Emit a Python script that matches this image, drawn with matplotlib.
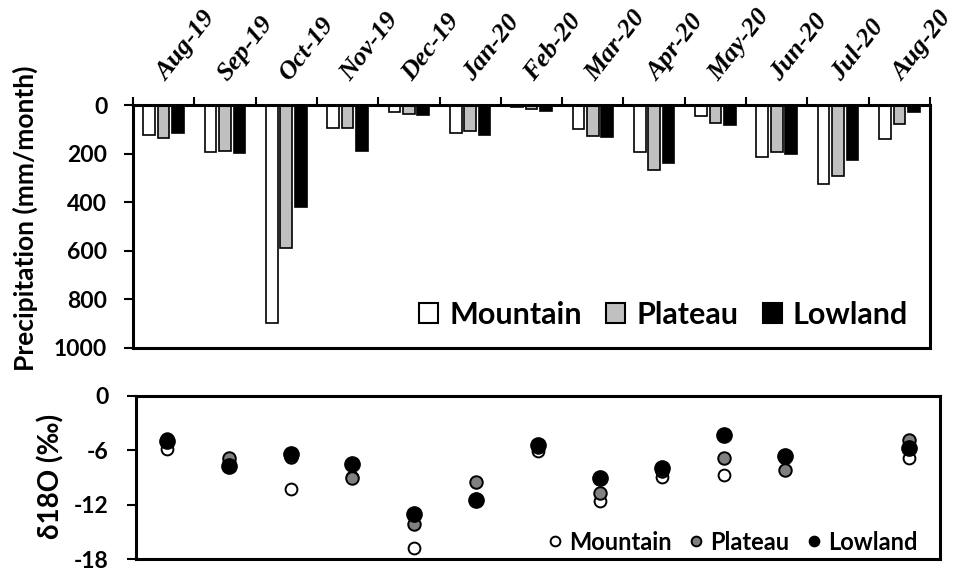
import numpy as np
import matplotlib
matplotlib.use("Agg")
import matplotlib.pyplot as plt
from matplotlib.lines import Line2D
from matplotlib.patches import Patch
from matplotlib.transforms import blended_transform_factory, ScaledTranslation

months = ["Aug-19", "Sep-19", "Oct-19", "Nov-19", "Dec-19", "Jan-20", "Feb-20",
          "Mar-20", "Apr-20", "May-20", "Jun-20", "Jul-20", "Aug-20"]

precip_mountain = [123, 195, 898, 93, 27, 117, 10, 100, 192, 45, 213, 326, 140]
precip_plateau = [135, 191, 590, 93, 37, 106, 18, 126, 267, 75, 195, 292, 78]
precip_lowland = [114, 196, 421, 189, 42, 123, 23, 133, 237, 81, 202, 226, 30]

d18o_mountain = [-5.9, -7.2, -10.3, -8.9, -16.8, -11.4, -6.1, -11.6, -8.9, -8.7, -6.8, np.nan, -6.8]
d18o_plateau = [-4.8, -6.8, -6.7, -9.1, -14.15, -9.55, -5.6, -10.7, -8.3, -6.9, -8.2, np.nan, -4.9]
d18o_lowland = [-5.0, -7.75, -6.43, -7.46, -13.05, -11.5, -5.43, -9.0, -8.0, -4.26, -6.6, np.nan, -5.73]

series = ['Mountain', 'Plateau', 'Lowland']

plt.rcParams['font.family'] = ['Lato', 'DejaVu Sans']
plt.rcParams['font.weight'] = 'bold'
plt.rcParams['axes.unicode_minus'] = False

W, H = 971, 573
fig = plt.figure(figsize=(W / 100, H / 100), dpi=100)
ax1 = fig.add_axes([133 / W, 1 - 348 / H, (930 - 133) / W, (348 - 105) / H])
ax2 = fig.add_axes([136 / W, 1 - 559 / H, (940 - 136) / W, (559 - 396) / H])

n = len(months)
x = np.arange(n) + 0.5
w = 0.19
off = 0.235
lw_sp = 2.2
bar_lw = 1.2

ax1.bar(x - off, precip_mountain, w, color='white', edgecolor='black', linewidth=bar_lw)
ax1.bar(x, precip_plateau, w, color='#c0c0c0', edgecolor='black', linewidth=bar_lw)
ax1.bar(x + off, precip_lowland, w, color='black', edgecolor='black', linewidth=bar_lw)
ax1.set_xlim(0, n)
ax1.set_ylim(1000, 0)
ax1.set_yticks([0, 200, 400, 600, 800, 1000])
ax1.tick_params(axis='y', labelsize=16.5, width=1.5, length=6.5, pad=12)
ax1.xaxis.tick_top()
ax1.set_xticks(np.arange(n + 1))
ax1.set_xticklabels([])
ax1.tick_params(axis='x', which='major', length=6, width=1.5, direction='out')
for s in ax1.spines.values():
    s.set_linewidth(lw_sp)

trans = blended_transform_factory(ax1.transData, ax1.transAxes) + \
    ScaledTranslation(0.03, 0.23, fig.dpi_scale_trans)
for xi, m in zip(x, months):
    ax1.text(xi, 1.0, m, transform=trans, rotation=52, rotation_mode='anchor',
             ha='left', va='baseline', family='Liberation Serif',
             style='italic', weight='bold', fontsize=19)

fig.text(25 / W, 1 - 218 / H, 'Precipitation (mm/month)', rotation=90,
         ha='center', va='center', fontsize=19, fontweight='bold')

h1 = [Patch(facecolor='white', edgecolor='black', linewidth=1.5),
      Patch(facecolor='#c0c0c0', edgecolor='black', linewidth=1.5),
      Patch(facecolor='black', edgecolor='black', linewidth=1.5)]
ax1.legend(h1, series, loc='center right', ncol=3,
           frameon=False, fontsize=22, handlelength=0.62, handleheight=0.62,
           handletextpad=0.36, columnspacing=0.8, borderaxespad=0.0,
           borderpad=0.0, bbox_to_anchor=(1 - 22 / 797, 33 / 243))

ax2.plot(x, d18o_mountain, 'o', ms=8.5, mfc='white', mec='black', mew=1.4, zorder=3)
ax2.plot(x, d18o_plateau, 'o', ms=9, mfc='#808080', mec='black', mew=1.4, zorder=4)
ax2.plot(x, d18o_lowland, 'o', ms=11, mfc='black', mec='black', mew=1.0, zorder=5)
ax2.set_xlim(0, n)
ax2.set_ylim(-18, 0)
ax2.set_yticks([0, -6, -12, -18])
ax2.set_xticks([])
ax2.tick_params(axis='y', labelsize=16.5, width=1.5, length=6.5, pad=13)
for s in ax2.spines.values():
    s.set_linewidth(lw_sp)
fig.text(51 / W, 1 - 476.5 / H, 'δ18O (‰)', rotation=90,
         ha='center', va='center', fontsize=20, fontweight='bold')

h2 = [Line2D([], [], marker='o', ls='', ms=7, mfc='white', mec='black', mew=1.4),
      Line2D([], [], marker='o', ls='', ms=7, mfc='#808080', mec='black', mew=1.4),
      Line2D([], [], marker='o', ls='', ms=7, mfc='black', mec='black', mew=1.4)]
ax2.legend(h2, series, loc='center right', ncol=3,
           frameon=False, fontsize=17, handlelength=0.5, handletextpad=0.35,
           columnspacing=0.8, borderaxespad=0.0, borderpad=0.0,
           bbox_to_anchor=(1 - 22 / 804, 17 / 163))

fig.savefig('out.png', dpi=100)
